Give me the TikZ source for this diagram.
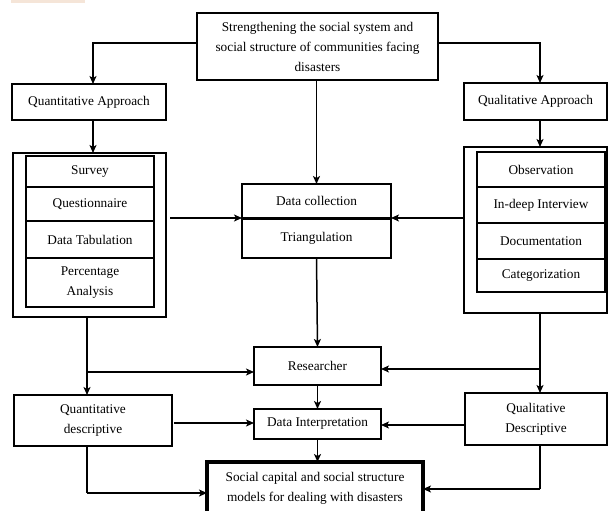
\documentclass[tikz,border=0pt]{standalone}
\usepackage{fontspec}
\setmainfont{Liberation Serif}
\usetikzlibrary{arrows.meta}
\definecolor{peach}{RGB}{245,229,216}
\begin{document}
\begin{tikzpicture}[x=1pt,y=-1pt,
  box/.style={draw,line width=1.6pt,inner sep=0pt,outer sep=0pt,align=center,
    font=\fontsize{13.3}{20}\selectfont},
  thickbox/.style={box,line width=2.4pt},
  heavybox/.style={box,line width=4pt},
  arr/.style={line width=1.5pt,-{Stealth[length=8pt,width=7pt,inset=2pt]}},
  ln/.style={line width=1.5pt}]
\useasboundingbox (0,0) rectangle (608,511);
\clip (0,0) rectangle (608,511);
\fill[peach] (11,0) rectangle (85,3);
% top
\node[thickbox,minimum width=241pt,minimum height=67pt] (top) at (317.5,46.5)
  {Strengthening the social system and\\social structure of communities facing\\disasters};
\node[thickbox,minimum width=154pt,minimum height=36pt] (qa) at (89,102) {Quantitative Approach};
\node[thickbox,minimum width=143pt,minimum height=37pt] (qla) at (535.5,101.5) {Qualitative Approach};
% left group
\node[box,minimum width=153pt,minimum height=164pt] (louter) at (89.5,235) {};
\node[box,minimum width=128pt,minimum height=31pt] (survey) at (90,171.5) {Survey};
\node[box,minimum width=128pt,minimum height=34pt] (quest) at (90,204) {Questionnaire};
\node[box,minimum width=128pt,minimum height=37pt] (tab) at (90,239.5) {Data Tabulation};
\node[box,minimum width=128pt,minimum height=49pt] (perc) at (90,282.5) {Percentage\\Analysis};
\draw[line width=2.4pt] (quest.north west) -- (quest.north east);
\draw[line width=2.4pt] (tab.north west) -- (tab.north east);
% middle
\node[box,minimum width=149pt,minimum height=34pt] (dc) at (316.5,201) {Data collection};
\node[box,minimum width=149pt,minimum height=40pt] (tri) at (316.5,238) {Triangulation};
\draw[line width=3pt] (tri.north west) -- (tri.north east);
% right group
\node[box,minimum width=143pt,minimum height=166pt] (router) at (535.5,230) {};
\node[box,minimum width=128pt,minimum height=35pt] (obs) at (541,169.5) {Observation};
\node[box,minimum width=128pt,minimum height=36pt] (int) at (541,205) {In-deep Interview};
\node[box,minimum width=128pt,minimum height=36pt] (doc) at (541,241) {Documentation};
\node[box,minimum width=128pt,minimum height=33pt] (cat) at (541,275.5) {Categorization};
% lower
\node[box,minimum width=127pt,minimum height=38pt] (res) at (317.5,366) {Researcher};
\node[box,minimum width=158pt,minimum height=51pt] (qnd) at (93,420.5) {Quantitative\\descriptive};
\node[box,minimum width=127pt,minimum height=30pt] (di) at (317.5,424) {Data Interpretation};
\node[box,minimum width=142pt,minimum height=52pt] (qld) at (536,419) {Qualitative\\Descriptive};
\node[heavybox,minimum width=216pt,minimum height=52pt] (sc) at (315,488)
  {Social capital and social structure\\models for dealing with disasters};
% connectors
\draw[arr] ([yshift=3.5pt]top.west) -| ([xshift=4pt]qa.north);
\draw[arr] ([yshift=3.5pt]top.east) -| ([xshift=4.5pt]qla.north);
\draw[arr] ([xshift=4pt]qa.south) -- ([xshift=4pt]qa.south |- louter.north);
\draw[arr] ([xshift=4.5pt]qla.south) -- ([xshift=4.5pt]qla.south |- router.north);
\draw[arr] (dc.north |- top.south) -- (dc.north);
\draw[arr] ([xshift=4pt]louter.east |- tri.north) -- (tri.north west);
\draw[arr] (router.west |- tri.north) -- (tri.north east);
\draw[arr] (tri.south) -- (res.north);
\coordinate (lx) at (87,317);
\coordinate (lb) at (87,372);
\draw[arr] (lx) -- (lx |- qnd.north);
\draw[arr] (lb) -- (lb -| res.west);
\coordinate (rx) at (540,313);
\coordinate (rb) at (540,369);
\draw[arr] (rx) -- (rx |- qld.north);
\draw[arr] (rb) -- (rb -| res.east);
\draw[arr] ([xshift=2pt,yshift=-2.5pt]qnd.east) -- ([yshift=-2.5pt]qnd.east -| di.west);
\draw[arr] ([yshift=-6pt]qld.west) -- ([yshift=-6pt]qld.west -| di.east);
\draw[arr] (res.south) -- (di.north);
\draw[arr] (di.south) -- (di.south |- sc.north);
\coordinate (lq) at (87,446);
\coordinate (ld) at (87,493);
\draw[ln] (lq) -- (ld);
\draw[arr] (ld) -- (ld -| sc.west);
\coordinate (rq) at (540,445);
\coordinate (rd) at (540,489);
\draw[ln] (rq) -- (rd);
\draw[arr] (rd) -- (rd -| sc.east);
\end{tikzpicture}
\end{document}
